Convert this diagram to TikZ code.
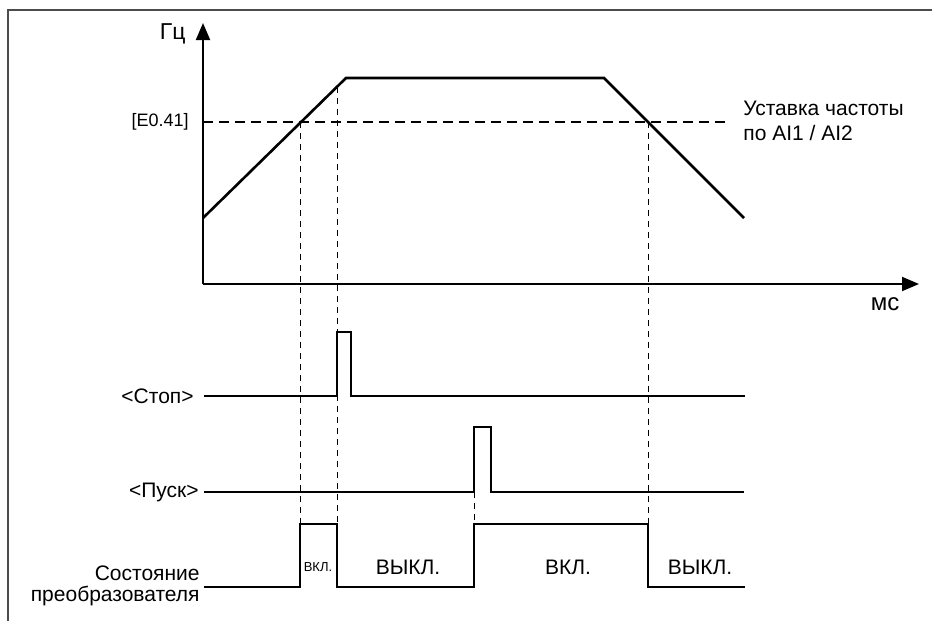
\documentclass[tikz,border=0pt]{standalone}
\usepackage{fontspec}
\setmainfont{Liberation Sans}
\usetikzlibrary{arrows.meta}

\begin{document}
\begin{tikzpicture}[x=0.5pt, y=-0.5pt, >={Triangle[length=8.5pt, width=7pt]},
    signal/.style={line width=1.3pt},
    axisline/.style={line width=1pt},
    setline/.style={line width=0.9pt, dash pattern=on 5pt off 3pt},
    guide/.style={line width=0.5pt, dash pattern=on 3pt off 2.5pt},
    txt/.style={inner sep=0pt, font=\fontsize{10.5}{12.5}\selectfont}]
    \useasboundingbox (0,0) rectangle (932,621);
    % Рамка
    \draw[line width=1pt, black!70] (8,621) -- (8,10) -- (932,10);

    % Оси
    \coordinate (O) at (203,284);
    \coordinate (ytip) at (203,23);
    \coordinate (xtip) at (919,284);
    \draw[axisline, ->] (O) -- (ytip);
    \draw[axisline, ->] (O) -- (xtip);
    \node[txt, anchor=east, font=\fontsize{11.5}{13}\selectfont] (hz) at (186,34) {Гц};
    \node[txt, font=\fontsize{12}{14}\selectfont] (ms) at (885,304) {мс};

    % Уставка
    \draw[setline] (203,122) -- (728,122);
    \node[txt, anchor=east, font=\fontsize{9}{11}\selectfont] (e041) at (189,122) {[E0.41]};
    \node[txt, anchor=west, align=left] (ust) at (743,121) {Уставка частоты\\по AI1 / AI2};

    % Частота
    \draw[signal] (203,218) -- (346,78) -- (604,78) -- (744,218);

    % Вертикальные метки
    \draw[guide] (300,122) -- (300,524);
    \draw[guide] (337,87) -- (337,524);
    \draw[guide] (648,122) -- (648,524);
    \draw[guide] (474,492) -- (474,524);

    % Стоп
    \node[txt, anchor=east] (stop) at (194,396) {<Стоп>};
    \draw[signal] (204,396) -- (337,396) -- (337,332) -- (351,332) -- (351,396) -- (745,396);

    % Пуск
    \node[txt, anchor=east] (pusk) at (199,492) {<Пуск>};
    \draw[signal] (204,492) -- (474,492) -- (474,427) -- (491,427) -- (491,492) -- (744,492);

    % Состояние преобразователя
    \node[txt, anchor=east, align=right, font=\fontsize{10.5}{10.5}\selectfont] (state) at (200,586) {Состояние\\преобразователя};
    \draw[signal] (204,587) -- (300,587) -- (300,524) -- (337,524) -- (337,587) -- (474,587)
        -- (474,524) -- (648,524) -- (648,587) -- (745,587);
    \node[txt, font=\fontsize{6.5}{7}\selectfont] (on1) at (318,567) {ВКЛ.};
    \node[txt] (off1) at (408,567) {ВЫКЛ.};
    \node[txt] (on2) at (568,567) {ВКЛ.};
    \node[txt] (off2) at (700,567) {ВЫКЛ.};
\end{tikzpicture}
\end{document}
